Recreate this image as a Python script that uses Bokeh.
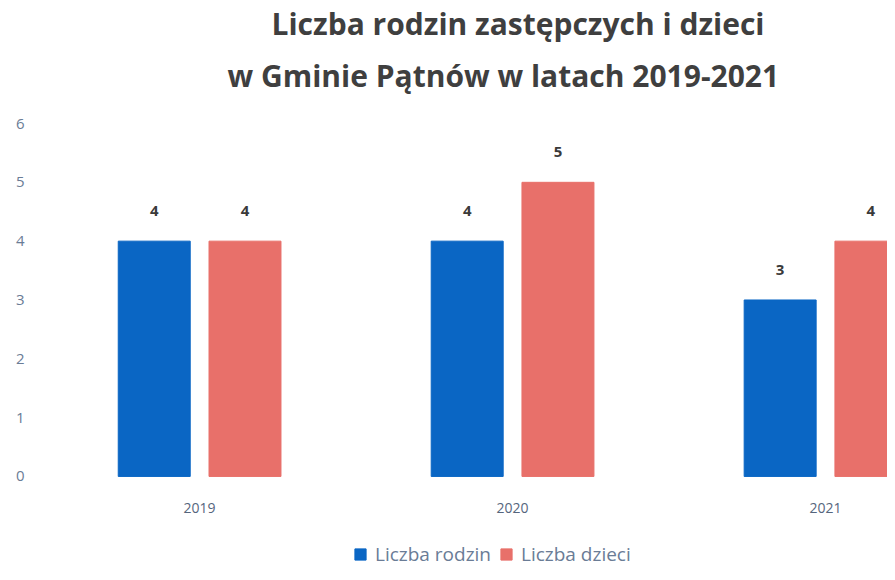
from bokeh.plotting import figure
from bokeh.models import (ColumnDataSource, Title, Legend, LegendItem, Range1d,
                          FixedTicker, LabelSet)
from bokeh.core.properties import value
from bokeh.embed import file_html
from bokeh.resources import INLINE

# ---- data ----
years = ["2019", "2020", "2021"]
rodzin = [4, 4, 3]
dzieci = [4, 5, 4]
series_names = ["Liczba rodzin", "Liczba dzieci"]
y_ticks = [0, 1, 2, 3, 4, 5, 6]
title_line1 = "Liczba rodzin zastępczych i dzieci"
title_line2 = "w Gminie Pątnów w latach 2019-2021"

BLUE = "#0a66c4"
RED = "#e8706a"
FONT = "Open Sans"

xpos = list(range(len(years)))
off = 0.145
bw = 0.23

src_r = ColumnDataSource(dict(x=[v - off for v in xpos], top=rodzin,
                              lbl=[str(v) for v in rodzin]))
src_d = ColumnDataSource(dict(x=[v + off for v in xpos], top=dzieci,
                              lbl=[str(v) for v in dzieci]))

p = figure(frame_width=850, frame_height=462, output_backend="svg",
           toolbar_location=None,
           x_range=Range1d(-0.518, 2.198), y_range=Range1d(-1.548, 6.306),
           min_border_left=37, min_border_right=0, min_border_top=101,
           min_border_bottom=0)
p.outline_line_color = None
p.grid.grid_line_color = None

r1 = p.vbar(x="x", top="top", width=bw, source=src_r, color=BLUE)
r2 = p.vbar(x="x", top="top", width=bw, source=src_d, color=RED)

for s in (src_r, src_d):
    p.add_layout(LabelSet(x="x", y="top", text="lbl", source=s, y_offset=30,
                          text_align="center", text_baseline="middle",
                          text_font=value(FONT), text_font_style="bold",
                          text_font_size="15px", text_color="#3a3a3a"))

for ax in (p.xaxis, p.yaxis):
    ax.axis_line_color = None
    ax.major_tick_line_color = None
    ax.minor_tick_line_color = None
    ax.major_tick_out = 0
    ax.minor_tick_out = 0
    ax.major_label_text_font = FONT

p.yaxis.ticker = FixedTicker(ticks=y_ticks)
p.yaxis.major_label_text_font_size = "15px"
p.yaxis.major_label_text_color = "#6a7c96"
p.yaxis.major_label_standoff = 13

p.xaxis.ticker = FixedTicker(ticks=xpos)
p.xaxis.fixed_location = 0
p.xaxis.major_label_overrides = {i: y for i, y in enumerate(years)}
p.xaxis.major_label_text_font_size = "14px"
p.xaxis.major_label_text_color = "#55657d"
p.xaxis.major_label_standoff = 27

legend = Legend(items=[LegendItem(label=series_names[0], renderers=[r1]),
                       LegendItem(label=series_names[1], renderers=[r2])],
                orientation="horizontal", location=(316, 0),
                border_line_color=None, background_fill_alpha=0,
                label_text_font=FONT, label_text_font_size="19px",
                label_text_color="#6a7c96", glyph_width=14, glyph_height=14,
                spacing=8, label_standoff=8, padding=0, margin=0)
p.add_layout(legend, "center")

p.add_layout(Title(text=title_line2, align="left", offset=190,
                   text_font=FONT, text_font_style="bold",
                   text_font_size="30px", text_color="#3f3f3f",
                   standoff=19), "above")
p.add_layout(Title(text=title_line1, align="left", offset=234,
                   text_font=FONT, text_font_style="bold",
                   text_font_size="30px", text_color="#3f3f3f",
                   standoff=0), "above")

open("out.html", "w").write(file_html(p, INLINE))
